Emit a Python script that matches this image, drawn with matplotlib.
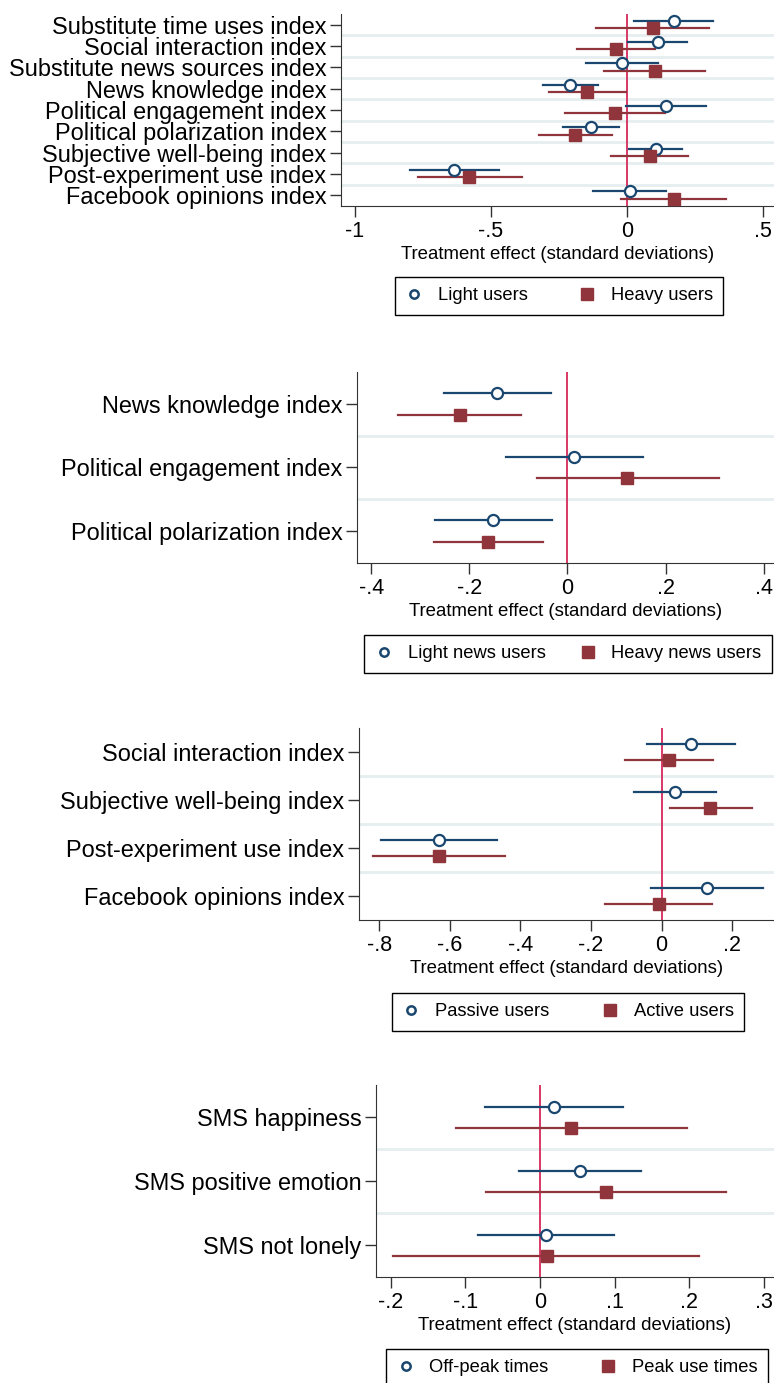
import matplotlib
matplotlib.use("Agg")
import matplotlib.pyplot as plt
from matplotlib.lines import Line2D

plt.rcParams['font.family'] = ['Liberation Sans', 'DejaVu Sans']

# ---- panel 1: light vs heavy users ----
p1_labels = ['Substitute time uses index', 'Social interaction index', 'Substitute news sources index',
             'News knowledge index', 'Political engagement index', 'Political polarization index',
             'Subjective well-being index', 'Post-experiment use index', 'Facebook opinions index']
p1_a_est = [0.172, 0.113, -0.018, -0.209, 0.145, -0.131, 0.107, -0.634, 0.010]
p1_a_lo = [0.027, 0.004, -0.151, -0.310, -0.005, -0.236, 0.009, -0.796, -0.126]
p1_a_hi = [0.317, 0.221, 0.113, -0.107, 0.292, -0.029, 0.204, -0.471, 0.144]
p1_b_est = [0.094, -0.042, 0.102, -0.145, -0.045, -0.189, 0.083, -0.579, 0.172]
p1_b_lo = [-0.113, -0.184, -0.083, -0.286, -0.226, -0.324, -0.058, -0.767, -0.021]
p1_b_hi = [0.301, 0.102, 0.288, -0.004, 0.139, -0.055, 0.223, -0.387, 0.364]
p1_ticks = [-1, -0.5, 0, 0.5]
p1_ticklabels = ['-1', '-.5', '0', '.5']
p1_legend = ['Light users', 'Heavy users']

# ---- panel 2: light vs heavy news users ----
p2_labels = ['News knowledge index', 'Political engagement index', 'Political polarization index']
p2_a_est = [-0.143, 0.014, -0.152]
p2_a_lo = [-0.252, -0.126, -0.270]
p2_a_hi = [-0.033, 0.153, -0.031]
p2_b_est = [-0.219, 0.122, -0.162]
p2_b_lo = [-0.345, -0.063, -0.273]
p2_b_hi = [-0.094, 0.309, -0.050]
p2_ticks = [-0.4, -0.2, 0, 0.2, 0.4]
p2_ticklabels = ['-.4', '-.2', '0', '.2', '.4']
p2_legend = ['Light news users', 'Heavy news users']

# ---- panel 3: passive vs active users ----
p3_labels = ['Social interaction index', 'Subjective well-being index', 'Post-experiment use index',
             'Facebook opinions index']
p3_a_est = [0.083, 0.038, -0.630, 0.127]
p3_a_lo = [-0.041, -0.077, -0.795, -0.031]
p3_a_hi = [0.207, 0.153, -0.465, 0.288]
p3_b_est = [0.022, 0.138, -0.630, -0.009]
p3_b_lo = [-0.103, 0.024, -0.816, -0.160]
p3_b_hi = [0.146, 0.256, -0.445, 0.142]
p3_ticks = [-0.8, -0.6, -0.4, -0.2, 0, 0.2]
p3_ticklabels = ['-.8', '-.6', '-.4', '-.2', '0', '.2']
p3_legend = ['Passive users', 'Active users']

# ---- panel 4: off-peak vs peak times ----
p4_labels = ['SMS happiness', 'SMS positive emotion', 'SMS not lonely']
p4_a_est = [0.019, 0.054, 0.008]
p4_a_lo = [-0.074, -0.028, -0.083]
p4_a_hi = [0.112, 0.136, 0.099]
p4_b_est = [0.042, 0.089, 0.009]
p4_b_lo = [-0.113, -0.072, -0.197]
p4_b_hi = [0.197, 0.250, 0.213]
p4_ticks = [-0.2, -0.1, 0, 0.1, 0.2, 0.3]
p4_ticklabels = ['-.2', '-.1', '0', '.1', '.2', '.3']
p4_legend = ['Off-peak times', 'Peak use times']

NAVY = '#1a476f'
MAROON = '#90353b'
ZERO = '#d62a5c'
GRID = '#e6eef0'

W, H = 774, 1383
fig = plt.figure(figsize=(W / 100, H / 100), dpi=100)


def box(left, top, right, bottom):
    # pixel box -> figure fraction
    return [left / W, 1 - bottom / H, (right - left) / W, (bottom - top) / H]


def panel(rect, labels, a, b, ticks, ticklabels, xlim, legend, leg_center, off_a, off_b, colsp):
    ax = fig.add_axes(box(*rect))
    n = len(labels)
    ys = list(range(1, n + 1))
    for k in range(1, n):
        ax.axhline(k + 0.5, color=GRID, lw=2, zorder=0)
    ax.axvline(0, color=ZERO, lw=1.3, zorder=1)

    est, lo, hi = a
    for y, e, l, h in zip(ys, est, lo, hi):
        ax.plot([l, h], [y + off_a, y + off_a], color=NAVY, lw=1.6, zorder=2)
    ax.plot(est, [y + off_a for y in ys], 'o', ms=8, mfc='white', mec=NAVY, mew=1.6, zorder=3)

    est, lo, hi = b
    for y, e, l, h in zip(ys, est, lo, hi):
        ax.plot([l, h], [y + off_b, y + off_b], color=MAROON, lw=1.6, zorder=2)
    ax.plot(est, [y + off_b for y in ys], 's', ms=9, color=MAROON, zorder=3)

    ax.set_ylim(n + 0.5, 0.5)
    ax.set_xlim(*xlim)
    ax.set_yticks(ys)
    ax.set_yticklabels(labels, fontsize=16.9)
    ax.set_xticks(ticks)
    ax.set_xticklabels(ticklabels, fontsize=15.5)
    ax.set_xlabel('Treatment effect (standard deviations)', fontsize=13.4, labelpad=3)
    ax.tick_params(axis='both', direction='out', length=8, width=1, color='#333333', pad=2.5)
    for s in ['top', 'right']:
        ax.spines[s].set_visible(False)
    for s in ['left', 'bottom']:
        ax.spines[s].set_color('#333333')

    handles = [Line2D([], [], ls='none', marker='o', ms=6, mfc='white', mec=NAVY, mew=1.8),
               Line2D([], [], ls='none', marker='s', ms=9, color=MAROON)]
    leg = fig.legend(handles, legend, loc='center', ncol=2, fontsize=13.2,
                     bbox_to_anchor=(leg_center[0] / W, 1 - leg_center[1] / H),
                     frameon=True, fancybox=False, edgecolor='black', framealpha=1,
                     handlelength=1.0, handletextpad=0.8, columnspacing=colsp,
                     borderpad=0.55, borderaxespad=0)
    leg.get_frame().set_linewidth(1.0)
    return ax


panel((341, 14, 774, 206), p1_labels, (p1_a_est, p1_a_lo, p1_a_hi), (p1_b_est, p1_b_lo, p1_b_hi),
      p1_ticks, p1_ticklabels, (-1.05, 0.54), p1_legend, (559, 296), -0.18, 0.16, 2.7)
panel((357, 372, 774, 563), p2_labels, (p2_a_est, p2_a_lo, p2_a_hi), (p2_b_est, p2_b_lo, p2_b_hi),
      p2_ticks, p2_ticklabels, (-0.429, 0.421), p2_legend, (568, 654), -0.17, 0.17, 1.8)
panel((359, 728, 774, 920), p3_labels, (p3_a_est, p3_a_lo, p3_a_hi), (p3_b_est, p3_b_lo, p3_b_hi),
      p3_ticks, p3_ticklabels, (-0.857, 0.318), p3_legend, (568, 1012), -0.17, 0.17, 2.8)
panel((376, 1085, 774, 1277), p4_labels, (p4_a_est, p4_a_lo, p4_a_hi), (p4_b_est, p4_b_lo, p4_b_hi),
      p4_ticks, p4_ticklabels, (-0.220, 0.314), p4_legend, (577, 1368), -0.16, 0.165, 2.75)

fig.savefig('out.png', dpi=100)
